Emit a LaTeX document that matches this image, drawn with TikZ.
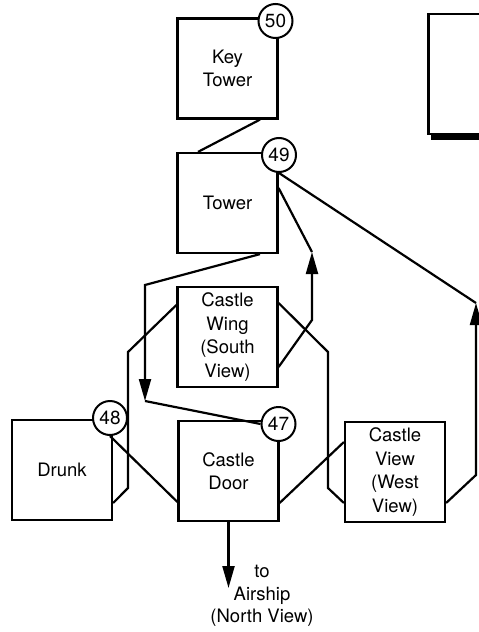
\documentclass[tikz,border=0pt]{standalone}
\usepackage{fontspec}
\setmainfont{TeX Gyre Heros}
\usetikzlibrary{arrows.meta}
\begin{document}
\begin{tikzpicture}[x=1pt,y=-1pt,
 box/.style={draw,line width=2.2pt,minimum width=100pt,minimum height=100pt,inner sep=0pt,align=center,font=\fontsize{18.5}{23.5}\selectfont},
 num/.style={draw,circle,fill=white,line width=2pt,minimum size=34pt,inner sep=0pt,font=\fontsize{19}{20}\selectfont},
 conn/.style={line width=2.2pt},
 tip/.style={conn,-{Triangle[length=22pt,width=12pt]}},
 lbl/.style={align=center,font=\fontsize{18.5}{22.5}\selectfont}]
\useasboundingbox[fill=white] (0,0) rectangle (479,632);
% boxes
\node[box] (kt) at (227.5,68.5) {Key\\Tower};
\node[box] (tw) at (227.5,203) {Tower};
\node[box] (cw) at (227.5,337) {Castle\\Wing\\(South\\View)};
\node[box] (dr) at (62,470) {Drunk};
\node[box] (cd) at (228.5,471) {Castle\\Door};
\node[box] (cv) at (395,472) {Castle\\View\\(West\\View)};
\node[lbl] (air) at (262,596) {to\\Airship\\(North View)};
% number circles
\node[num] (c50) at (275.5,21) {50};
\node[num] (c49) at (279,155) {49};
\node[num] (c48) at (110,418) {48};
\node[num] (c47) at (278.5,424) {47};
% partial box at top right
\draw[line width=2.8pt] (481,14) -| (428.5,134) -- (481,134);
\fill (431,134) rectangle (481,140);
% bend points
\coordinate (A) at (476,303);
\coordinate (B) at (476,475);
\coordinate (C) at (312,320);
\coordinate (D) at (312,252);
\coordinate (E) at (328,352);
\coordinate (F) at (328,488);
\coordinate (G) at (145,285);
\coordinate (H) at (145,401);
\coordinate (I) at (128,352);
\coordinate (J) at (128,488);
\coordinate (K) at (228.5,588);
% connectors
\draw[conn] ([xshift=32.5pt]kt.south) -- ([xshift=-29.5pt]tw.north);
\draw[tip] ([yshift=-31pt]cv.east) -- (B) -- (A);
\draw[conn] (A) -- (c49.south);
\draw[tip] ([yshift=-30pt]cw.east) -- (C) -- (D);
\draw[conn] (D) -- ([yshift=15pt]tw.east);
\draw[conn] ([yshift=34pt]cw.east) -- (E) -- (F) -- ([yshift=-31pt]cv.west);
\draw[conn] ([yshift=-32pt]cd.east) -- ([yshift=30pt]cv.west);
\draw[tip] ([xshift=32.5pt]tw.south) -- (G) -- (H);
\draw[conn] (H) -- (c47.west);
\draw[conn] ([yshift=32pt]cw.west) -- (I) -- (J) -- ([yshift=-33pt]dr.east);
\draw[conn] (c48.south) -- ([yshift=-31pt]cd.west);
\draw[tip] (cd.south) -- (K);
\end{tikzpicture}
\end{document}
